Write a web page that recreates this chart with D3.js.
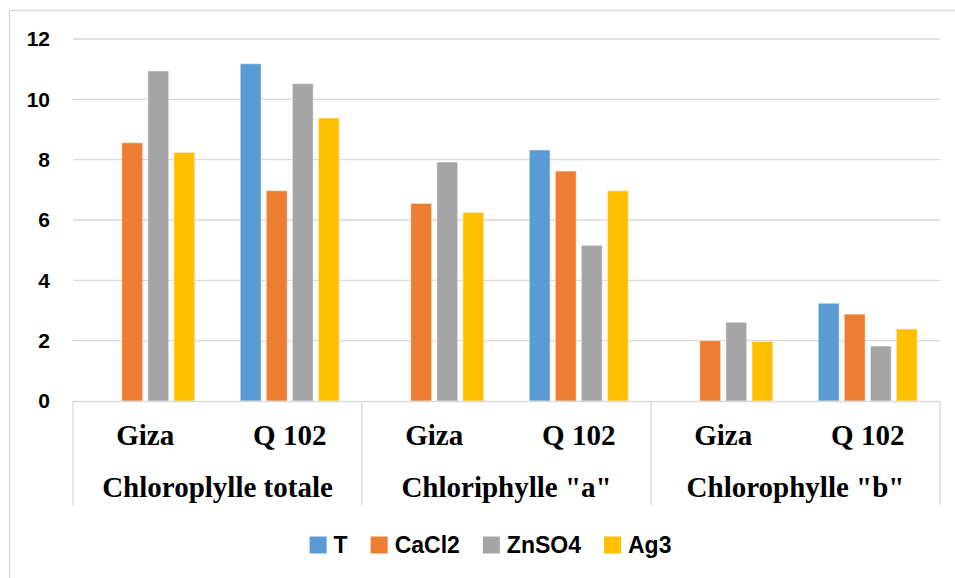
<!DOCTYPE html>
<html>
<head>
<meta charset="utf-8">
<script src="https://cdn.jsdelivr.net/npm/d3@7"></script>
<style>
  html, body { margin: 0; padding: 0; background: #fff; }
  svg { display: block; }
</style>
</head>
<body>
<svg id="chart" width="955" height="578"></svg>
<script>
// Chlorophyll content by treatment, variety and pigment
const groups = ["Chloroplylle totale", "Chloriphylle \"a\"", "Chlorophylle \"b\""];
const varieties = ["Giza", "Q 102"];
const seriesNames = ["T", "CaCl2", "ZnSO4", "Ag3"];
const seriesColors = ["#5B9BD5", "#ED7D31", "#A5A5A5", "#FFC000"];

// values in order: totale Giza, totale Q102, a Giza, a Q102, b Giza, b Q102
const valuesT     = [null, 11.18, null, 8.32, null, 3.24];
const valuesCaCl2 = [8.56, 6.97, 6.55, 7.62, 2.00, 2.88];
const valuesZnSO4 = [10.94, 10.52, 7.92, 5.16, 2.61, 1.82];
const valuesAg3   = [8.24, 9.38, 6.25, 6.97, 1.97, 2.39];

const yTicks = [0, 2, 4, 6, 8, 10, 12];

const seriesValues = [valuesT, valuesCaCl2, valuesZnSO4, valuesAg3];

const svg = d3.select("#chart");
const W = 955, H = 578;
const plot = { left: 73, right: 940, top: 39, bottom: 401 };
const grid = "#d9d9d9";

// chart area frame (left and top edges)
svg.append("path")
  .attr("d", `M9.5,${H} V10.5 H${W}`)
  .attr("fill", "none").attr("stroke", grid).attr("stroke-width", 1.3);

// leaf categories: every (group, variety) pair
const leaves = [];
groups.forEach((g, gi) => varieties.forEach((v, vi) => leaves.push({ g, gi, v, vi, key: gi + "-" + vi })));

const x0 = d3.scaleBand().domain(leaves.map(d => d.key)).range([plot.left, plot.right]).padding(0);
const y = d3.scaleLinear().domain([0, 12]).range([plot.bottom, plot.top]);

// gridlines
svg.append("g")
  .selectAll("line").data(yTicks.filter(t => t > 0)).join("line")
  .attr("x1", plot.left).attr("x2", plot.right)
  .attr("y1", d => y(d)).attr("y2", d => y(d))
  .attr("stroke", grid).attr("stroke-width", 1.3);

// y axis labels
const yAxis = svg.append("g")
  .attr("transform", `translate(${plot.left},0)`)
  .call(d3.axisLeft(y).tickValues(yTicks).tickSize(0).tickPadding(23).tickFormat(d3.format("d")));
yAxis.select(".domain").remove();
yAxis.selectAll("text")
  .attr("font-family", "'Liberation Sans', Arial, sans-serif")
  .attr("font-weight", "bold").attr("font-size", 21).attr("fill", "#000");

// bars
const barW = 99;
const x1 = d3.scaleBand().domain(seriesNames).range([0, barW]).paddingInner(0.2).paddingOuter(0);
const barData = [];
leaves.forEach((leaf, li) => {
  seriesNames.forEach((s, si) => {
    const v = seriesValues[si][li];
    if (v != null) barData.push({ leaf, s, si, v });
  });
});
svg.append("g").selectAll("rect").data(barData).join("rect")
  .attr("x", d => x0(d.leaf.key) + x0.bandwidth() / 2 - barW / 2 + x1(d.s))
  .attr("width", x1.bandwidth())
  .attr("y", d => y(d.v))
  .attr("height", d => y(0) - y(d.v))
  .attr("fill", d => seriesColors[d.si])
  .attr("stroke", "#fff").attr("stroke-opacity", 0.45).attr("stroke-width", 1);

// category axis: baseline and group separators
const axisBottom = 505;
svg.append("line")
  .attr("x1", plot.left).attr("x2", plot.right)
  .attr("y1", plot.bottom + 0.5).attr("y2", plot.bottom + 0.5)
  .attr("stroke", grid).attr("stroke-width", 1.3);
const sepX = groups.map((g, gi) => x0(gi + "-0")).concat([plot.right]);
svg.append("g").selectAll("line").data(sepX).join("line")
  .attr("x1", d => d).attr("x2", d => d)
  .attr("y1", plot.bottom).attr("y2", axisBottom)
  .attr("stroke", grid).attr("stroke-width", 1.3);

const serif = "'Liberation Serif', 'Times New Roman', serif";
// variety labels
svg.append("g").selectAll("text").data(leaves).join("text")
  .attr("x", d => x0(d.key) + x0.bandwidth() / 2)
  .attr("y", 445)
  .attr("text-anchor", "middle")
  .attr("font-family", serif).attr("font-weight", "bold").attr("font-size", 29)
  .attr("fill", "#000")
  .text(d => d.v);
// pigment group labels
svg.append("g").selectAll("text").data(groups).join("text")
  .attr("x", (d, gi) => (sepX[gi] + sepX[gi + 1]) / 2)
  .attr("y", 497)
  .attr("text-anchor", "middle")
  .attr("font-family", serif).attr("font-weight", "bold").attr("font-size", 29)
  .attr("fill", "#000")
  .text(d => d);

// legend
const legend = svg.append("g");
const sw = 17, textGap = 7, itemGap = 23;
const items = legend.selectAll("g").data(seriesNames).join("g");
items.append("rect")
  .attr("width", sw).attr("height", sw).attr("y", -sw / 2)
  .attr("fill", (d, i) => seriesColors[i]);
items.append("text")
  .attr("x", sw + textGap).attr("dy", "0.36em")
  .attr("font-family", "'Liberation Sans', Arial, sans-serif")
  .attr("font-weight", "bold").attr("font-size", 23).attr("fill", "#000")
  .text(d => d);
let cx = 0;
const offsets = [];
items.each(function () {
  offsets.push(cx);
  const tw = d3.select(this).select("text").node().getComputedTextLength();
  cx += sw + textGap + tw + itemGap;
});
const totalW = cx - itemGap;
items.attr("transform", (d, i) => `translate(${offsets[i]},0)`);
legend.attr("transform", `translate(${490.5 - totalW / 2},545)`);
</script>
</body>
</html>
